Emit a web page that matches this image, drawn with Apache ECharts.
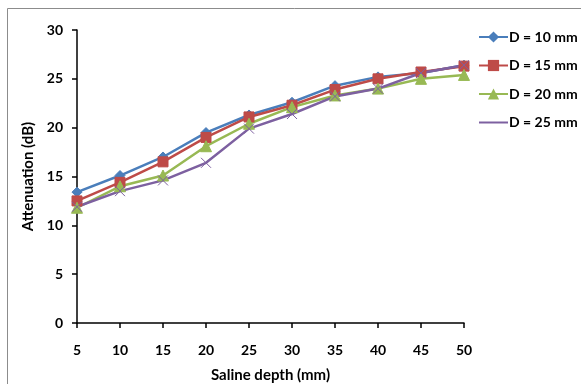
<!DOCTYPE html>
<html>
<head>
<meta charset="utf-8">
<script src="https://cdn.jsdelivr.net/npm/echarts@6/dist/echarts.min.js"></script>
<style>
  html, body { margin: 0; padding: 0; background: #fff; }
  #chart { width: 581px; height: 384px; }
</style>
</head>
<body>
<div id="chart"></div>
<script>
const depths = ['5', '10', '15', '20', '25', '30', '35', '40', '45', '50'];

const d10 = [13.4, 15.1, 17.0, 19.5, 21.3, 22.6, 24.3, 25.2, 25.6, 26.4];
const d15 = [12.5, 14.4, 16.5, 19.0, 21.1, 22.3, 23.9, 25.0, 25.7, 26.3];
const d20 = [11.8, 14.0, 15.1, 18.1, 20.4, 22.1, 23.3, 24.0, 25.0, 25.4];
const d25 = [11.9, 13.5, 14.6, 16.4, 19.9, 21.4, 23.2, 24.0, 25.6, 26.4];

const chart = echarts.init(document.getElementById('chart'));

const font = 'Lato, "Open Sans", sans-serif';
const txt = { fontFamily: font, fontSize: 14, fontWeight: 'bold', color: '#000' };
const nameTxt = Object.assign({}, txt, { fontSize: 15 });

// one line series per hole diameter
const makeSeries = (name, data, color, symbol, size) => ({
  name: name,
  type: 'line',
  data: data,
  symbol: symbol,
  symbolSize: size,
  lineStyle: { width: 2.5, color: color },
  itemStyle: { color: color, borderColor: color },
  emphasis: { disabled: true },
  animation: false
});

const option = {
  backgroundColor: '#fff',
  textStyle: { fontFamily: font },
  graphic: [
    { type: 'line', shape: { x1: 7.5, y1: 8.5, x2: 7.5, y2: 384 }, style: { stroke: '#8c8c8c', lineWidth: 1 } },
    { type: 'line', shape: { x1: 7.5, y1: 8.5, x2: 581, y2: 8.5 }, style: { stroke: '#8c8c8c', lineWidth: 1 } }
  ],
  legend: {
    orient: 'vertical',
    left: 473,
    top: 25,
    itemGap: 14.5,
    itemWidth: 29,
    itemHeight: 14,
    data: ['D = 10 mm', 'D = 15 mm', 'D = 20 mm', 'D = 25 mm'],
    textStyle: Object.assign({}, txt, { padding: [0, 0, 0, -4] }),
    selectedMode: false
  },
  grid: {
    left: 77,
    right: 117,
    top: 30,
    bottom: 61,
    outerBoundsMode: 'none'
  },
  xAxis: {
    type: 'category',
    data: depths,
    boundaryGap: false,
    name: 'Saline depth (mm)',
    nameLocation: 'middle',
    nameGap: 45,
    nameTextStyle: nameTxt,
    axisLine: { lineStyle: { color: '#000', width: 1.5 } },
    axisTick: { alignWithLabel: true, length: 5, lineStyle: { color: '#000', width: 1.5 } },
    axisLabel: Object.assign({ margin: 20 }, txt),
    splitLine: { show: false }
  },
  yAxis: {
    type: 'value',
    min: 0,
    max: 30,
    interval: 5,
    name: 'Attenuation (dB)',
    nameLocation: 'middle',
    nameGap: 41,
    nameTextStyle: nameTxt,
    axisLine: { show: true, lineStyle: { color: '#000', width: 1.5 } },
    axisTick: { show: true, length: 5, lineStyle: { color: '#000', width: 1.5 } },
    axisLabel: Object.assign({ margin: 14 }, txt),
    splitLine: { show: false }
  },
  series: [
    makeSeries('D = 10 mm', d10, '#4a7ebb', 'diamond', 10),
    makeSeries('D = 15 mm', d15, '#be4b48', 'rect', 10),
    makeSeries('D = 20 mm', d20, '#98b954', 'triangle', 11),
    makeSeries('D = 25 mm', d25, '#7d60a0', 'path://M0,0 L10,10 M10,0 L0,10', 10)
  ]
};

chart.setOption(option);
</script>
</body>
</html>
